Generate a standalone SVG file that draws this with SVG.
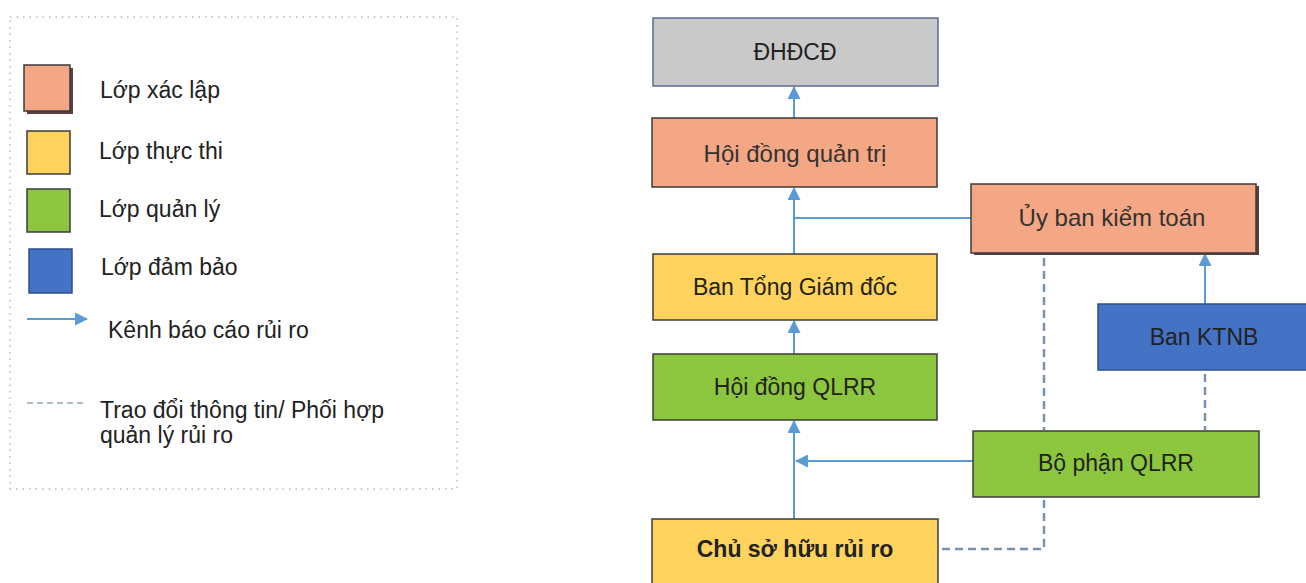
<svg xmlns="http://www.w3.org/2000/svg" width="1306" height="583" viewBox="0 0 1306 583">
<defs>
<marker id="ah" viewBox="0 0 12 12" refX="11" refY="6" markerWidth="13" markerHeight="13" markerUnits="userSpaceOnUse" orient="auto">
<path d="M0,0 L12,6 L0,12 Z" fill="#5b9bd5"/>
</marker>
<style>
text{font-family:"Liberation Sans",Arial,sans-serif;fill:#222;font-size:23px}
.c{text-anchor:middle}
.thin{font-size:24px;fill:#333}
.b{font-weight:bold}
.node{stroke:#3b3b3b;stroke-width:1.5}
.orange{fill:#f4a784}
.yellow{fill:#fdd35e}
.green{fill:#8cc63f}
.blue{fill:#4472c4}
.gray{fill:#c9c9c9;stroke:#5a6e8c;stroke-width:1.5}
.shadow{fill:#5a4040}
.link{stroke:#5b9bd5;stroke-width:2;fill:none}
.dash{stroke:#7892b0;stroke-width:2.5;fill:none;stroke-dasharray:8,5}
</style>
</defs>
<rect width="1306" height="583" fill="#ffffff"/>

<g id="legend">
<rect x="10" y="17" width="447" height="472" fill="none" stroke="#c8c8c8" stroke-width="1.8" stroke-dasharray="1.5,5"/>
<rect x="27" y="68" width="46" height="46" class="shadow"/>
<rect x="24" y="65" width="46" height="46" class="orange node"/>
<text x="100" y="98">Lớp xác lập</text>
<rect x="27" y="131" width="43" height="43" class="yellow node"/>
<text x="99" y="159">Lớp thực thi</text>
<rect x="27" y="189" width="43" height="43" class="green node"/>
<text x="99" y="217">Lớp quản lý</text>
<rect x="29" y="249" width="43" height="44" class="blue" stroke="#2f4f8a" stroke-width="1.5"/>
<text x="101" y="275">Lớp đảm bảo</text>
<line x1="27" y1="319" x2="87" y2="319" class="link" marker-end="url(#ah)"/>
<text x="108" y="338">Kênh báo cáo rủi ro</text>
<line x1="27" y1="403" x2="83" y2="403" stroke="#a8bccb" stroke-width="2" stroke-dasharray="6,4"/>
<text x="100" y="418">Trao đổi thông tin/ Phối hợp</text>
<text x="100" y="443">quản lý rủi ro</text>
</g>

<g id="connectors">
<line x1="794" y1="118" x2="794" y2="87" class="link" marker-end="url(#ah)"/>
<line x1="794" y1="254" x2="794" y2="188" class="link" marker-end="url(#ah)"/>
<line x1="794" y1="218" x2="971" y2="218" class="link"/>
<line x1="794" y1="354" x2="794" y2="321" class="link" marker-end="url(#ah)"/>
<line x1="794" y1="519" x2="794" y2="421" class="link" marker-end="url(#ah)"/>
<line x1="973" y1="461" x2="796" y2="461" class="link" marker-end="url(#ah)"/>
<line x1="1205" y1="304" x2="1205" y2="254" class="link" marker-end="url(#ah)"/>
<line x1="1044" y1="258" x2="1044" y2="430" class="dash"/>
<line x1="1205" y1="374" x2="1205" y2="430" class="dash"/>
<polyline points="1044,500 1044,549 939,549" class="dash"/>
</g>

<g id="dhdcd">
<rect x="653" y="18" width="285" height="68" class="gray"/>
<text x="795" y="60" class="c">ĐHĐCĐ</text>
</g>

<g id="hdqt">
<rect x="652" y="118" width="285" height="69" class="orange node"/>
<text x="795" y="162" class="c thin">Hội đồng quản trị</text>
</g>

<g id="ubkt">
<rect x="974" y="186" width="285" height="69" class="shadow"/>
<rect x="971" y="184" width="285" height="69" class="orange node"/>
<text x="1112" y="226" class="c thin">Ủy ban kiểm toán</text>
</g>

<g id="btgd">
<rect x="653" y="254" width="284" height="66" class="yellow node"/>
<text x="795" y="295" class="c">Ban Tổng Giám đốc</text>
</g>

<g id="ktnb">
<rect x="1098" y="304" width="215" height="66" class="blue" stroke="#2f4f8a" stroke-width="1.5"/>
<text x="1204" y="345" class="c">Ban KTNB</text>
</g>

<g id="hdqlrr">
<rect x="653" y="354" width="284" height="66" class="green node"/>
<text x="795" y="395" class="c">Hội đồng QLRR</text>
</g>

<g id="bpqlrr">
<rect x="973" y="431" width="286" height="66" class="green node"/>
<text x="1116" y="471" class="c">Bộ phận QLRR</text>
</g>

<g id="cshrr">
<rect x="652" y="519" width="286" height="80" class="yellow node"/>
<text x="795" y="557" class="c b">Chủ sở hữu rủi ro</text>
</g>
</svg>
